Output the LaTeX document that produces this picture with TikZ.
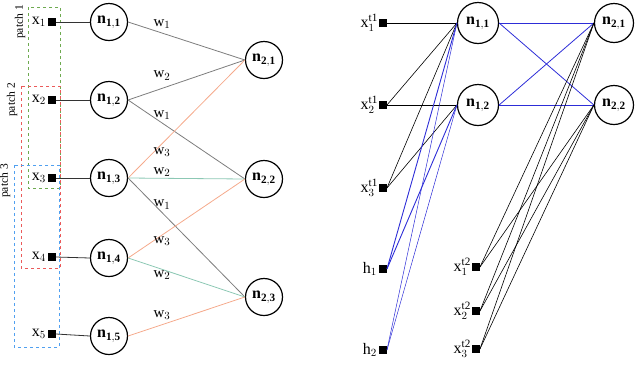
\documentclass[tikz,border=0pt]{standalone}
\usepackage{fontspec}
\setmainfont{Liberation Serif}
\usepackage{tikz}
\usetikzlibrary{positioning}

\definecolor{wgray}{RGB}{125,125,125}
\definecolor{worange}{RGB}{245,170,140}
\definecolor{wgreen}{RGB}{140,200,180}
\definecolor{wblue}{RGB}{45,45,215}
\definecolor{pgreen}{RGB}{110,170,80}
\definecolor{pred}{RGB}{235,90,90}
\definecolor{pblue}{RGB}{80,160,240}

\begin{document}
\begin{tikzpicture}[x=1pt, y=-1pt,
    neuron/.style={circle, draw, line width=1.2pt, minimum size=37pt, inner sep=0pt, font=\fontsize{16}{16}\selectfont},
    bigneuron/.style={neuron, minimum size=41pt},
    input/.style={fill=black, minimum size=7.5pt, inner sep=0pt},
    lab/.style={font=\fontsize{16}{16}\selectfont, inner sep=1pt},
    wlab/.style={font=\fontsize{15}{15}\selectfont, text=black, inner sep=1pt, pos=0.29},
    plab/.style={font=\fontsize{11.5}{11.5}\selectfont, rotate=90, inner sep=0pt},
    wire/.style={line width=0.8pt, black!80},
    thin wire/.style={line width=0.6pt, black},
    patch/.style={dashed, line width=1pt}]
\useasboundingbox (0,0) rectangle (640,365);

% Patches
\draw[patch, pgreen] (28,7) rectangle (60,188);
\draw[patch, pred] (21,86) rectangle (60,268);
\draw[patch, pblue] (14,165) rectangle (59,347);
\node[plab] (p1) at (20,22) {patch 1};
\node[plab] (p2) at (12,100) {patch 2};
\node[plab] (p3) at (5,181) {patch 3};

% Nodes
\node[input, label={[lab, label distance=1pt]left:$\mathrm{x}_1$}] (x1) at (52,22) {};
\node[input, label={[lab, label distance=1pt]left:$\mathrm{x}_2$}] (x2) at (52,100) {};
\node[input, label={[lab, label distance=1pt]left:$\mathrm{x}_3$}] (x3) at (52,178) {};
\node[input, label={[lab, label distance=1pt]left:$\mathrm{x}_4$}] (x4) at (52,257) {};
\node[input, label={[lab, label distance=1pt]left:$\mathrm{x}_5$}] (x5) at (52,334) {};
\node[neuron] (n11) at (109,22) {$\mathbf{n}_{\mathbf{1,1}}$};
\node[neuron] (n12) at (109,100) {$\mathbf{n}_{\mathbf{1,2}}$};
\node[neuron] (n13) at (109,178) {$\mathbf{n}_{\mathbf{1,3}}$};
\node[neuron] (n14) at (109,258) {$\mathbf{n}_{\mathbf{1,4}}$};
\node[neuron] (n15) at (109,336) {$\mathbf{n}_{\mathbf{1,5}}$};
\node[neuron] (n21) at (264,60) {$\mathbf{n}_{\mathbf{2,1}}$};
\node[neuron] (n22) at (264,179) {$\mathbf{n}_{\mathbf{2,2}}$};
\node[neuron] (n23) at (264,297) {$\mathbf{n}_{\mathbf{2,3}}$};

% Edges
\draw[wire] (x1.east) -- (n11.west);
\draw[wire] (x2.east) -- (n12.west);
\draw[wire] (x3.east) -- (n13.west);
\draw[wire] (x4.east) -- (n14.west);
\draw[wire] (x5.east) -- (n15.west);
\draw[wgray, line width=0.8pt] (n11.east) -- node[wlab, above=3pt] {$\mathrm{w}_1$} (n21.west);
\draw[wgray, line width=0.8pt] (n12.east) -- node[wlab, above=7pt] {$\mathrm{w}_2$} (n21.west);
\draw[wgray, line width=0.8pt] (n12.east) -- node[wlab, above=2pt] {$\mathrm{w}_1$} (n22.west);
\draw[worange, line width=0.8pt] (n13.east) -- node[wlab, below=2pt] {$\mathrm{w}_3$} (n21.west);
\draw[wgreen, line width=0.8pt] (n13.east) -- node[wlab, above=0pt] {$\mathrm{w}_2$} (n22.west);
\draw[wgray, line width=0.8pt] (n13.east) -- node[wlab, above=2pt] {$\mathrm{w}_1$} (n23.west);
\draw[worange, line width=0.8pt] (n14.east) -- node[wlab, below=0pt] {$\mathrm{w}_3$} (n22.west);
\draw[wgreen, line width=0.8pt] (n14.east) -- node[wlab, below=0pt] {$\mathrm{w}_2$} (n23.west);
\draw[worange, line width=0.8pt] (n15.east) -- node[wlab, above=4pt] {$\mathrm{w}_3$} (n23.west);

% Nodes (recurrent side)
\node[input, label={[lab, label distance=0pt]left:$\mathrm{x}^{\mathrm{t1}}_1$}] (a1) at (383,23) {};
\node[input, label={[lab, label distance=0pt]left:$\mathrm{x}^{\mathrm{t1}}_2$}] (a2) at (383,105) {};
\node[input, label={[lab, label distance=0pt]left:$\mathrm{x}^{\mathrm{t1}}_3$}] (a3) at (383,188) {};
\node[input, label={[lab, label distance=1pt]left:$\mathrm{h}_1$}] (h1) at (383,269) {};
\node[input, label={[lab, label distance=1pt]left:$\mathrm{h}_2$}] (h2) at (383,350) {};
\node[bigneuron] (m11) at (478,23) {$\mathbf{n}_{\mathbf{1,1}}$};
\node[bigneuron] (m12) at (478,105) {$\mathbf{n}_{\mathbf{1,2}}$};
\node[neuron, minimum size=39pt] (m21) at (614,23) {$\mathbf{n}_{\mathbf{2,1}}$};
\node[neuron, minimum size=39pt] (m22) at (614,105) {$\mathbf{n}_{\mathbf{2,2}}$};
\node[input, label={[lab, label distance=0pt]left:$\mathrm{x}^{\mathrm{t2}}_1$}] (b1) at (476,267) {};
\node[input, label={[lab, label distance=0pt]left:$\mathrm{x}^{\mathrm{t2}}_2$}] (b2) at (476,311) {};
\node[input, label={[lab, label distance=0pt]left:$\mathrm{x}^{\mathrm{t2}}_3$}] (b3) at (476,349) {};

% Edges (recurrent side)
\draw[thin wire] (a1.east) -- (m11.west);
\draw[thin wire] (a2.east) -- (m11.west);
\draw[thin wire] (a2.east) -- (m12.west);
\draw[thin wire] (a3.east) -- (m11.west);
\draw[thin wire] (a3.east) -- (m12.west);
\draw[wblue, line width=0.9pt] (h1.east) -- (m11.west);
\draw[wblue, line width=0.9pt] (h1.east) -- (m12.west);
\draw[wblue, line width=0.5pt] (h2.east) -- (m11.west);
\draw[wblue, line width=0.5pt] (h2.east) -- (m12.west);
\draw[wblue, line width=0.8pt] (m11.east) -- (m21.west);
\draw[wblue, line width=0.8pt] (m11.east) -- (m22.west);
\draw[wblue, line width=0.8pt] (m12.east) -- (m21.west);
\draw[wblue, line width=0.8pt] (m12.east) -- (m22.west);
\draw[thin wire] (b1.east) -- (m21.west);
\draw[thin wire] (b1.east) -- (m22.west);
\draw[thin wire] (b2.east) -- (m21.west);
\draw[thin wire] (b2.east) -- (m22.west);
\draw[thin wire] (b3.east) -- (m21.west);
\draw[thin wire] (b3.east) -- (m22.west);
\end{tikzpicture}
\end{document}
